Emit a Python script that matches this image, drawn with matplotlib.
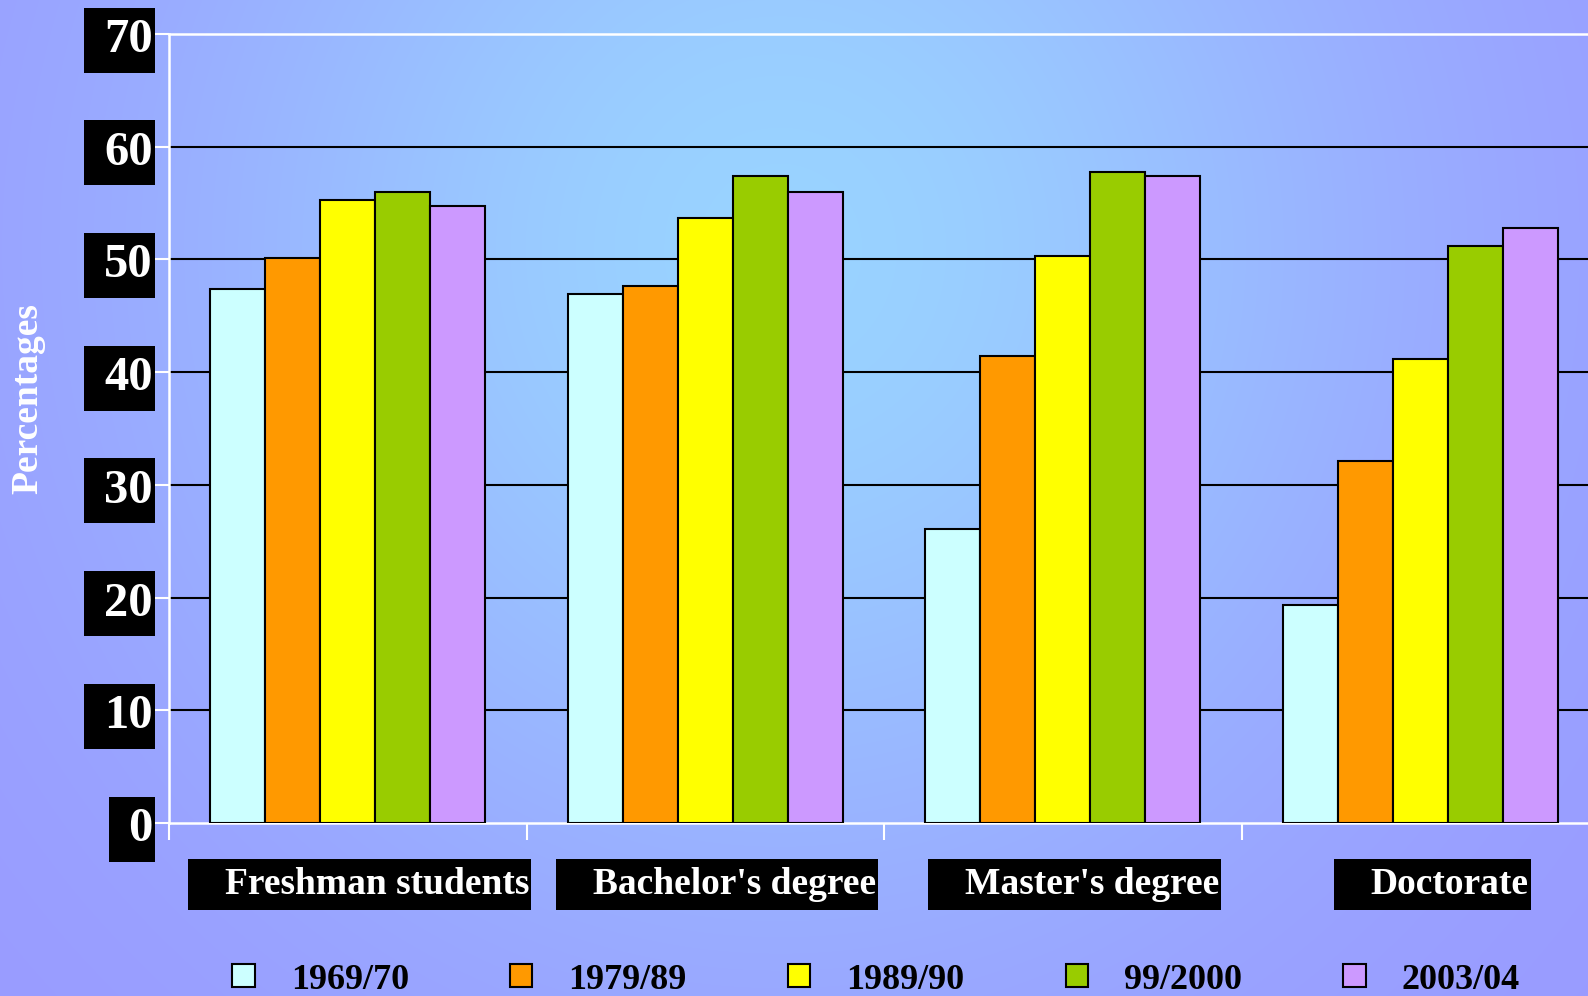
import numpy as np
import matplotlib
matplotlib.use('Agg')
import matplotlib.pyplot as plt
from matplotlib.colors import to_rgb
from matplotlib.patches import Rectangle
from matplotlib.transforms import IdentityTransform

# data
categories = ["Freshman students", "Bachelor's degree", "Master's degree", "Doctorate"]
years = ['1969/70', '1979/89', '1989/90', '99/2000', '2003/04']
v_1969 = [47.4, 46.9, 26.1, 19.3]
v_1979 = [50.1, 47.6, 41.4, 32.1]
v_1989 = [55.3, 53.7, 50.3, 41.2]
v_1999 = [56.0, 57.4, 57.8, 51.2]
v_2003 = [54.7, 56.0, 57.4, 52.8]
series = [v_1969, v_1979, v_1989, v_1999, v_2003]
colors = ['#CCFFFF', '#FF9900', '#FFFF00', '#99CC00', '#CC99FF']
y_ticks = [0, 10, 20, 30, 40, 50, 60, 70]

W, H = 1588, 996
SERIF = 'Liberation Serif'

fig = plt.figure(figsize=(W / 100, H / 100), dpi=100)

# background: lavender with a light blue glow in the upper middle
bg = fig.add_axes([0, 0, 1, 1], zorder=-1)
yy, xx = np.mgrid[0:H, 0:W]
t = np.exp(-((xx - 780) / 620.0) ** 2 - ((yy - 250) / 650.0) ** 2)
c0 = np.array(to_rgb('#9999FF'))
c1 = np.array(to_rgb('#99D3FF'))
img = c0 + t[..., None] * (c1 - c0)
bg.imshow(img, aspect='auto', extent=[0, 1, 0, 1])
bg.axis('off')

# plot area (runs slightly past the right edge like the original)
left, right, top, bottom = 169, 1599, 34, 823
ax = fig.add_axes([left / W, 1 - bottom / H, (right - left) / W, (bottom - top) / H])
ax.set_facecolor('none')

n = len(series)
bw = 0.154
x = np.arange(len(categories)) + 0.5
for i, (vals, c) in enumerate(zip(series, colors)):
    ax.bar(x + (i - (n - 1) / 2) * bw, vals, width=bw, color=c,
           edgecolor='black', linewidth=1.5, zorder=3, label=years[i])

for y in y_ticks[1:-1]:
    ax.axhline(y, color='black', lw=1.5, zorder=1)

ax.set_xlim(0, len(categories))
ax.set_ylim(0, 70)
ax.set_yticks(y_ticks)
ax.set_xticks(np.arange(len(categories) + 1))
ax.tick_params(axis='y', length=14, width=1.5, color='white', labelleft=False)
ax.tick_params(axis='x', length=12, width=1.5, color='white', labelbottom=False)
for side in ['left', 'top', 'bottom']:
    ax.spines[side].set_color('white')
    ax.spines[side].set_linewidth(1.8)
ax.spines['right'].set_visible(False)

fig.text(28 / W, 1 - 399 / H, 'Percentages', rotation=90, color='white',
         fontsize=27, fontweight='bold', family=SERIF, ha='center', va='center')

# boxed tick labels and category labels (white on black)
boxed = []
for y in y_ticks:
    yp = bottom - y * (bottom - top) / 70.0
    tx = fig.text(153 / W, 1 - (yp + 6) / H, str(y), color='white', fontsize=35,
                  fontweight='bold', family=SERIF, ha='right', va='center', zorder=5)
    boxed.append((tx, 20, 2, yp + 6, 65))

cat_w = (right - left) / len(categories)
for i, cat in enumerate(categories):
    cx = left + (i + 0.5) * cat_w + 29.5
    tx = fig.text(cx / W, 1 - 884 / H, cat, color='white', fontsize=27,
                  fontweight='bold', family=SERIF, ha='center', va='center', zorder=5)
    boxed.append((tx, 37, 2, 884.5, 51))

fig.canvas.draw()
r = fig.canvas.get_renderer()
for tx, lpad, rpad, yc, h in boxed:
    bb = tx.get_window_extent(r)
    fig.add_artist(Rectangle((bb.x0 - lpad, H - yc - h / 2), bb.width + lpad + rpad, h,
                             facecolor='black', edgecolor='none',
                             transform=IdentityTransform(), zorder=4))

handles, labels = ax.get_legend_handles_labels()
leg = fig.legend(handles, labels, loc='center', bbox_to_anchor=(876 / W, 1 - 980 / H),
                 ncol=5, frameon=False, handlelength=0.62, handleheight=0.62,
                 handletextpad=1.0, columnspacing=2.8,
                 prop={'family': SERIF, 'weight': 'bold', 'size': 26})
for p in leg.get_patches():
    p.set_linewidth(1.5)

fig.savefig('out.png', dpi=100)
